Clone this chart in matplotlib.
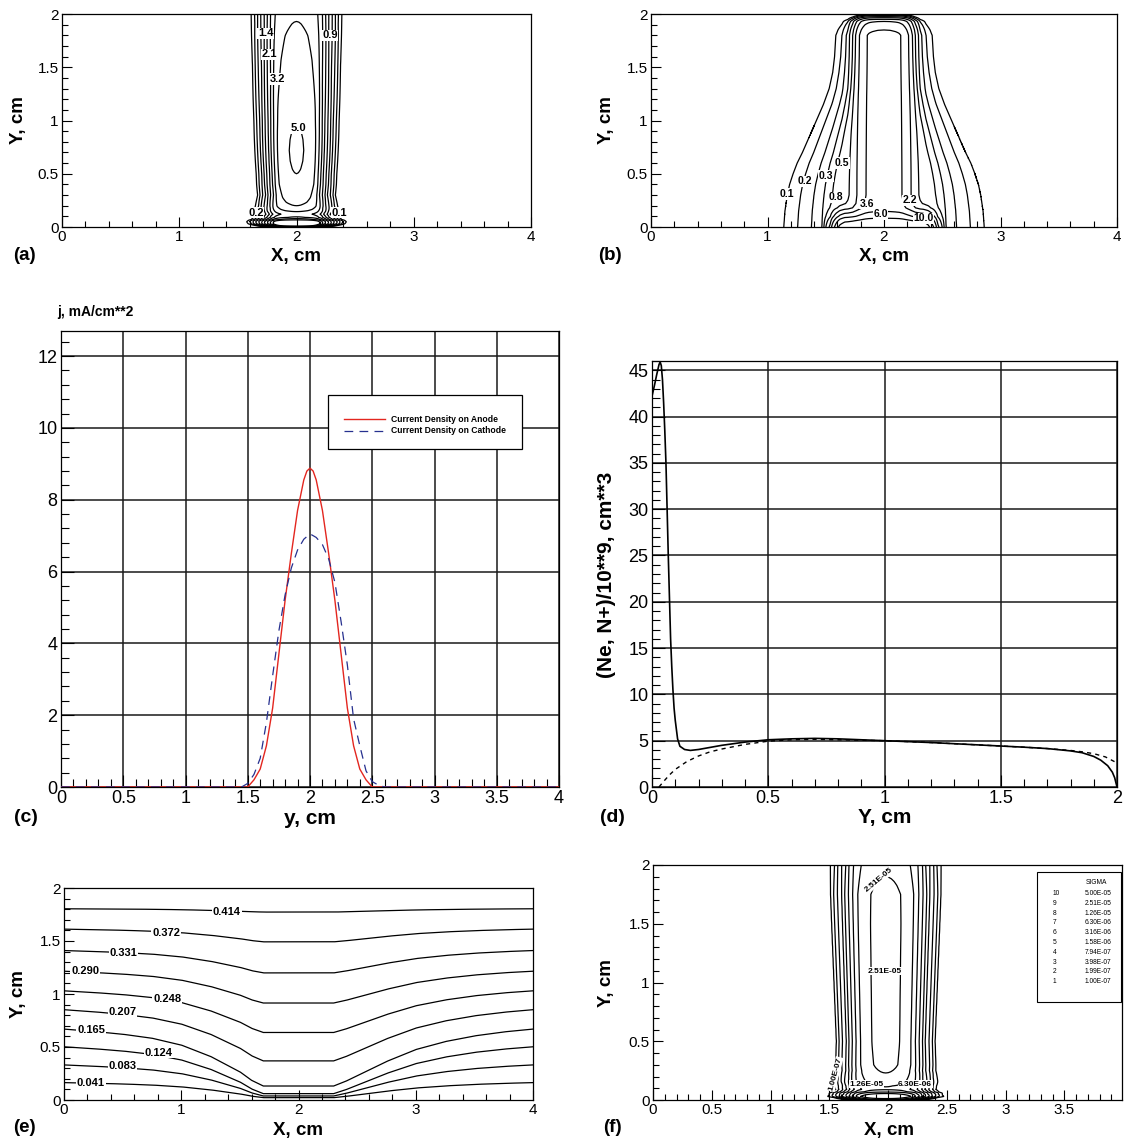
import numpy as np
import matplotlib
matplotlib.use("Agg")
import matplotlib.pyplot as plt
from matplotlib.ticker import MultipleLocator, FormatStrFormatter
from matplotlib.patches import Rectangle

plt.rcParams["font.family"] = ["Liberation Sans", "DejaVu Sans"]

FIG_W, FIG_H = 1125, 1140

# ---------------- (a) contour map of the discharge column ----------------
a_levels = [0.1, 0.154, 0.238, 0.368, 0.568, 0.877, 1.35, 2.09, 3.23, 5.0]
a_center_x = 2.0
a_axis_y = [0, 0.015, 0.03, 0.05, 0.07, 0.09, 0.12, 0.15, 0.2, 0.3, 0.4, 0.5, 0.55, 0.62,
            0.72, 0.82, 0.9, 0.95, 1.2, 1.5, 1.8, 1.93, 2.0]
a_axis_v = [1.0, 8.0, 14.0, 10.0, 4.0, 2.2, 1.6, 2.2, 3.23, 4.1, 4.7, 5.0, 5.1, 5.2,
            5.25, 5.2, 5.1, 5.0, 4.6, 4.0, 3.5, 3.23, 3.1]
a_wid_y = [0, 0.03, 0.06, 0.1, 0.15, 0.2, 0.3, 0.5, 1.0, 1.5, 2.0]
a_wid = [0.30, 0.34, 0.38, 0.40, 0.39, 0.36, 0.33, 0.33, 0.35, 0.375, 0.40]
a_rad_s = [0, 0.05, 0.1, 0.15, 0.2, 0.25, 0.35, 0.45, 0.52, 0.6, 0.7, 0.8, 0.9, 1.0, 1.1, 1.25, 1.5, 2.0]
a_rad_q = [1, 0.996, 0.985, 0.966, 0.945, 0.92, 0.83, 0.68, 0.52, 0.315, 0.167, 0.089, 0.047,
           0.025, 0.013, 0.005, 0.001, 0]
a_lab = ["1.4", "2.1", "3.2", "0.9", "5.0", "0.2", "0.1"]
a_lab_x = [1.736, 1.767, 1.837, 2.285, 2.02, 1.654, 2.365]
a_lab_y = [1.82, 1.62, 1.39, 1.80, 0.93, 0.135, 0.135]

# ---------------- (b) contour map ----------------
b_levels = [0.1, 0.167, 0.278, 0.464, 0.774, 1.29, 2.15, 3.59, 5.99, 10.0]
b_center_x = 2.0
b_core_amp = 2.9
b_core_w = 0.2
b_core_s = [0, 0.25, 0.5, 0.65, 0.8, 0.9, 1.0, 1.1, 1.2, 1.35, 1.55, 1.8, 2.2, 3.0]
b_core_q = [1, 0.99, 0.95, 0.9, 0.78, 0.65, 0.52, 0.4, 0.28, 0.13, 0.03, 0.005, 0.0001, 0]
b_halo_s = [0, 0.15, 0.3, 0.4, 0.45, 0.5, 0.534, 0.58, 0.62, 0.67, 0.724, 0.79, 0.862, 0.93,
            1.0, 1.1, 1.2, 1.35, 1.5, 2.0, 3.0]
b_halo_q = [1.3, 1.28, 1.2, 1.08, 1.0, 0.88, 0.774, 0.6, 0.464, 0.36, 0.278, 0.215, 0.167, 0.13,
            0.1, 0.07, 0.05, 0.032, 0.02, 0.005, 0]
b_halo_y = [0, 0.15, 0.3, 0.4, 0.5, 0.6, 0.7, 0.85, 1.0, 1.15, 1.3, 1.45, 1.6, 1.75, 1.9, 2.0]
b_halo_w = [0.86, 0.85, 0.83, 0.81, 0.78, 0.745, 0.70, 0.64, 0.58, 0.52, 0.47, 0.44, 0.42, 0.41, 0.40, 0.40]
b_top_y = [0, 1.8, 1.85, 1.9, 1.93, 1.95, 1.965, 1.975, 1.985, 1.99, 1.995, 2.0]
b_top_f = [1, 1, 0.855, 0.65, 0.512, 0.307, 0.184, 0.11, 0.066, 0.04, 0.024, 0]
b_sheath_y = [0, 0.03, 0.06, 0.1, 0.14, 0.18, 0.22, 0.3, 2.0]
b_sheath_v = [14, 11, 8, 4, 2, 0.6, 0.15, 0, 0]
b_sheath_w = 0.42
b_sheath_s = [0, 0.6, 0.8, 0.9, 1.0, 1.1, 1.25, 3.0]
b_sheath_q = [1, 1, 0.95, 0.75, 0.4, 0.12, 0, 0]
b_lab = ["0.1", "0.2", "0.3", "0.5", "0.8", "3.6", "2.2", "6.0", "10.0"]
b_lab_x = [1.17, 1.32, 1.50, 1.64, 1.59, 1.85, 2.22, 1.97, 2.34]
b_lab_y = [0.31, 0.43, 0.48, 0.60, 0.28, 0.22, 0.25, 0.12, 0.08]

# ---------------- (c) current density ----------------
c_x_anode = [0, 1.5, 1.55, 1.6, 1.65, 1.7, 1.75, 1.8, 1.85, 1.9, 1.95, 1.975, 2.0, 2.025,
             2.05, 2.1, 2.15, 2.2, 2.25, 2.3, 2.35, 2.4, 2.45, 2.5, 4.0]
c_j_anode = [0, 0, 0.2, 0.5, 1.15, 2.2, 3.7, 5.2, 6.5, 7.7, 8.55, 8.8, 8.88, 8.8,
             8.55, 7.7, 6.5, 5.2, 3.7, 2.2, 1.15, 0.5, 0.2, 0, 0]
c_x_cathode = [0, 1.45, 1.5, 1.55, 1.6, 1.65, 1.7, 1.75, 1.8, 1.85, 1.9, 1.95, 2.0, 2.05,
               2.1, 2.15, 2.2, 2.25, 2.3, 2.35, 2.4, 2.45, 2.5, 2.55, 2.6, 4.0]
c_j_cathode = [0, 0, 0.1, 0.35, 0.8, 1.8, 3.1, 4.35, 5.35, 6.1, 6.6, 6.9, 7.05, 6.95,
               6.75, 6.35, 5.7, 4.6, 3.4, 1.9, 1.15, 0.45, 0.15, 0.05, 0, 0]

# ---------------- (d) densities along the axis ----------------
d_y_ne = [0, 0.01, 0.02, 0.03, 0.035, 0.04, 0.045, 0.05, 0.055, 0.06, 0.065, 0.07, 0.075, 0.08,
          0.085, 0.09, 0.095, 0.1, 0.11, 0.12, 0.14, 0.165, 0.2, 0.3, 0.4, 0.5, 0.6, 0.7, 0.8,
          0.9, 1.0, 1.2, 1.4, 1.6, 1.7, 1.8, 1.85, 1.9, 1.93, 1.96, 1.98, 1.99, 2.0]
d_ne = [42.2, 43.3, 44.5, 45.6, 45.9, 45.5, 44.0, 41.5, 38.5, 35.0, 30.0, 25.0, 20.5, 16.0,
        13.0, 10.5, 8.5, 7.2, 5.2, 4.4, 4.05, 3.95, 4.05, 4.5, 4.85, 5.1, 5.2, 5.25, 5.2,
        5.1, 5.0, 4.8, 4.55, 4.3, 4.15, 3.9, 3.7, 3.3, 2.9, 2.3, 1.6, 1.0, 0]
d_y_np = [0.03, 0.05, 0.075, 0.1, 0.15, 0.2, 0.25, 0.3, 0.4, 0.5, 0.6, 0.7, 0.8, 1.0, 1.2,
          1.4, 1.6, 1.7, 1.8, 1.85, 1.9, 1.95, 2.0]
d_np = [0, 0.6, 1.3, 1.9, 2.75, 3.35, 3.8, 4.1, 4.6, 4.95, 5.1, 5.15, 5.1, 5.0, 4.8,
        4.55, 4.3, 4.15, 3.95, 3.8, 3.6, 3.25, 2.6]

# ---------------- (e) potential contours ----------------
e_levels = [0.041, 0.083, 0.124, 0.165, 0.207, 0.248, 0.290, 0.331, 0.372, 0.414]
e_y_edge = [0.164, 0.331, 0.502, 0.669, 0.852, 1.03, 1.215, 1.41, 1.612, 1.804]
e_y_center = [0.022, 0.038, 0.06, 0.132, 0.369, 0.637, 0.915, 1.199, 1.492, 1.773]
e_dip_x = [0, 0.25, 0.5, 0.75, 1.0, 1.25, 1.5, 1.6, 1.7, 2.3, 2.4, 2.5, 2.75, 3.0, 3.25, 3.5, 3.75, 4.0]
e_dip_w = [0, 0.04, 0.09, 0.16, 0.28, 0.48, 0.75, 0.9, 1.0, 1.0, 0.92, 0.82, 0.57, 0.36, 0.22, 0.12, 0.05, 0]
e_lab_x = [0.23, 0.50, 0.81, 0.23, 0.50, 0.88, 0.18, 0.51, 0.87, 1.39]
e_lab_y = [0.158, 0.32, 0.445, 0.66, 0.83, 0.95, 1.215, 1.39, 1.58, 1.77]

# ---------------- (f) conductivity contours ----------------
f_levels = [1.00e-07, 1.99e-07, 3.98e-07, 7.94e-07, 1.58e-06, 3.16e-06, 6.30e-06, 1.26e-05, 2.51e-05, 5.00e-05]
f_center_x = 1.98
f_axis_y = [0, 0.015, 0.03, 0.05, 0.07, 0.09, 0.12, 0.16, 0.23, 0.3, 0.5, 1.0, 1.5, 1.75, 1.9, 2.0]
f_axis_v = [0.5e-5, 6e-5, 12e-5, 6e-5, 2e-5, 1.15e-5, 1.3e-5, 1.9e-5, 2.51e-5, 2.85e-5,
            3.0e-5, 3.0e-5, 3.0e-5, 2.95e-5, 2.51e-5, 2.25e-5]
f_wid_y = [0, 0.03, 0.06, 0.1, 0.15, 0.25, 0.5, 1.0, 1.5, 2.0]
f_wid = [0.36, 0.42, 0.46, 0.47, 0.46, 0.43, 0.42, 0.44, 0.46, 0.48]
f_rad_s = [0, 0.05, 0.1, 0.15, 0.2, 0.28, 0.4, 0.51, 0.6, 0.7, 0.8, 0.9, 1.0, 1.1, 1.3, 2.0]
f_rad_q = [1, 0.995, 0.98, 0.955, 0.92, 0.84, 0.62, 0.42, 0.21, 0.074, 0.026, 0.0093, 0.0033,
           0.0012, 0.0002, 0]
f_lab = ["2.51E-05", "2.51E-05", "1.26E-05", "6.30E-06", "1.00E-07"]
f_lab_x = [1.92, 1.97, 1.815, 2.23, 1.55]
f_lab_y = [1.87, 1.095, 0.133, 0.133, 0.22]
f_lab_rot = [40, 0, 0, 0, 75]


def column_field(xx, yy, xc, ay, av, wy, wv, rs, rq):
    amp = np.interp(yy, ay, av)
    half = np.interp(yy, wy, wv)
    return amp * np.interp(np.abs(xx - xc) / half, rs, rq)


fig = plt.figure(figsize=(FIG_W / 100, FIG_H / 100), dpi=100)


def px_axes(l, t, r, b):
    return fig.add_axes([l / FIG_W, 1 - b / FIG_H, (r - l) / FIG_W, (b - t) / FIG_H])


def px_text(x, y, s, **kw):
    fig.text(x / FIG_W, 1 - y / FIG_H, s, ha=kw.pop("ha", "center"), va="center", **kw)


def setup(ax, xlim, ylim, xmaj, xmin, ymaj, ymin, size=11, majlen=7, minlen=4):
    ax.set_xlim(*xlim)
    ax.set_ylim(*ylim)
    ax.xaxis.set_major_locator(MultipleLocator(xmaj))
    ax.xaxis.set_minor_locator(MultipleLocator(xmin))
    ax.yaxis.set_major_locator(MultipleLocator(ymaj))
    ax.yaxis.set_minor_locator(MultipleLocator(ymin))
    ax.xaxis.set_major_formatter(FormatStrFormatter("%g"))
    ax.yaxis.set_major_formatter(FormatStrFormatter("%g"))
    ax.tick_params(which="both", direction="in", top=False, right=False, width=0.8,
                   labelsize=size, pad=2.5)
    ax.tick_params(which="major", length=majlen)
    ax.tick_params(which="minor", length=minlen)
    for sp in ax.spines.values():
        sp.set_linewidth(0.9)


def put_labels(ax, texts, xs, ys, size=8, rots=None):
    for i, (t, x, y) in enumerate(zip(texts, xs, ys)):
        rot = rots[i] if rots else 0
        ax.text(x, y, t, fontsize=size, fontweight="bold", ha="center", va="center",
                rotation=rot, zorder=5,
                bbox=dict(boxstyle="square,pad=0.06", fc="white", ec="none"))


gx = np.linspace(0, 4, 1001)
gy = np.linspace(0, 2, 1201)
X, Y = np.meshgrid(gx, gy)
TITLE = dict(fontsize=13.5, fontweight="bold")

# (a)
ax = px_axes(62, 14, 531, 227)
Fa = column_field(X, Y, a_center_x, a_axis_y, a_axis_v, a_wid_y, a_wid, a_rad_s, a_rad_q)
ax.contour(X, Y, Fa, levels=a_levels, colors="black", linewidths=0.9)
put_labels(ax, a_lab, a_lab_x, a_lab_y)
setup(ax, (0, 4), (0, 2), 1, 0.2, 0.5, 0.1)
px_text(18, 120, "Y, cm", rotation=90, **TITLE)
px_text(296, 256, "X, cm", **TITLE)
px_text(24, 255, "(a)", **TITLE)

# (b)
ax = px_axes(651, 14, 1117, 227)
db = np.abs(X - b_center_x)
Fb = np.interp(Y, b_top_y, b_top_f) * (
    b_core_amp * np.interp(db / b_core_w, b_core_s, b_core_q)
    + np.interp(db / np.interp(Y, b_halo_y, b_halo_w), b_halo_s, b_halo_q))
Fb += np.interp(Y, b_sheath_y, b_sheath_v) * np.interp(db / b_sheath_w, b_sheath_s, b_sheath_q)
ax.contour(X, Y, Fb, levels=b_levels, colors="black", linewidths=0.9)
put_labels(ax, b_lab, b_lab_x, b_lab_y, size=7.5)
setup(ax, (0, 4), (0, 2), 1, 0.2, 0.5, 0.1)
px_text(607, 120, "Y, cm", rotation=90, **TITLE)
px_text(884, 256, "X, cm", **TITLE)
px_text(610, 255, "(b)", **TITLE)

# (c)
ax = px_axes(61, 331, 559, 787)
setup(ax, (0, 4), (0, 12.7), 0.5, 0.1, 2, 0.4, size=13, majlen=9, minlen=5.5)
ax.set_axisbelow(True)
ax.grid(which="major", color="0.1", lw=1.1)
ax.plot(c_x_anode, c_j_anode, color="#e3261f", lw=1.0, zorder=3)
ax.plot(c_x_cathode, c_j_cathode, color="#26308f", lw=0.9, dashes=(7, 5), zorder=3)
ax.add_patch(Rectangle((2.146, 9.42), 1.56, 1.5, fc="white", ec="black", lw=0.9, zorder=4))
ax.plot([2.277, 2.6], [10.24, 10.24], color="#e3261f", lw=1.0, zorder=5)
ax.plot([2.277, 2.6], [9.92, 9.92], color="#26308f", lw=0.9, dashes=(7, 5), zorder=5)
ax.text(2.65, 10.24, "Current Density on Anode", fontsize=6.2, fontweight="bold", va="center", zorder=5)
ax.text(2.65, 9.92, "Current Density on Cathode", fontsize=6.2, fontweight="bold", va="center", zorder=5)
px_text(57, 312, "j, mA/cm**2", ha="left", fontsize=10, fontweight="bold")
px_text(310, 818, "y, cm", fontsize=15, fontweight="bold")
px_text(26, 818, "(c)", fontsize=14, fontweight="bold")

# (d)
ax = px_axes(652, 361, 1117, 787)
setup(ax, (0, 2), (0, 46), 0.5, 0.1, 5, 1, size=13, majlen=9, minlen=5.5)
ax.set_axisbelow(True)
ax.grid(which="major", color="0.1", lw=1.1)
ax.plot(d_y_ne, d_ne, color="black", lw=1.2, zorder=3)
ax.plot(d_y_np, d_np, color="black", lw=1.0, dashes=(3, 3), zorder=3)
px_text(607, 575, "(Ne, N+)/10**9, cm**3", rotation=90, fontsize=15, fontweight="bold")
px_text(885, 818, "Y, cm", fontsize=15, fontweight="bold")
px_text(612, 818, "(d)", fontsize=14, fontweight="bold")

# (e)
ax = px_axes(64, 888, 533, 1100)
xe = np.linspace(0, 4, 801)
we = np.interp(xe, e_dip_x, e_dip_w)
for y0, y1 in zip(e_y_edge, e_y_center):
    ax.plot(xe, y0 + (y1 - y0) * we, color="black", lw=0.9)
put_labels(ax, ["%.3f" % v for v in e_levels], e_lab_x, e_lab_y)
setup(ax, (0, 4), (0, 2), 1, 0.2, 0.5, 0.1)
px_text(18, 994, "Y, cm", rotation=90, **TITLE)
px_text(298, 1130, "X, cm", **TITLE)
px_text(24, 1128, "(e)", **TITLE)

# (f)
ax = px_axes(653, 865, 1122, 1100)
Ff = column_field(X, Y, f_center_x, f_axis_y, f_axis_v, f_wid_y, f_wid, f_rad_s, f_rad_q)
ax.contour(X, Y, Ff, levels=f_levels, colors="black", linewidths=0.9)
put_labels(ax, f_lab, f_lab_x, f_lab_y, size=6, rots=f_lab_rot)
setup(ax, (0, 3.99), (0, 2), 0.5, 0.1, 0.5, 0.1)
px_text(607, 983, "Y, cm", rotation=90, **TITLE)
px_text(889, 1130, "X, cm", **TITLE)
px_text(612, 1127, "(f)", **TITLE)

# SIGMA legend of (f)
fig.patches.append(Rectangle((1037 / FIG_W, 1 - 1002 / FIG_H), 84 / FIG_W, 130 / FIG_H,
                             transform=fig.transFigure, fc="white", ec="black", lw=0.8))
px_text(1096, 883, "SIGMA", fontsize=4.8)
for i, lev in enumerate(f_levels[::-1]):
    yy = 893.5 + i * 9.8
    px_text(1053, yy, str(len(f_levels) - i), ha="left", fontsize=4.8)
    px_text(1085, yy, "%.2E" % lev, ha="left", fontsize=4.8)

fig.savefig("out.png", dpi=100)
